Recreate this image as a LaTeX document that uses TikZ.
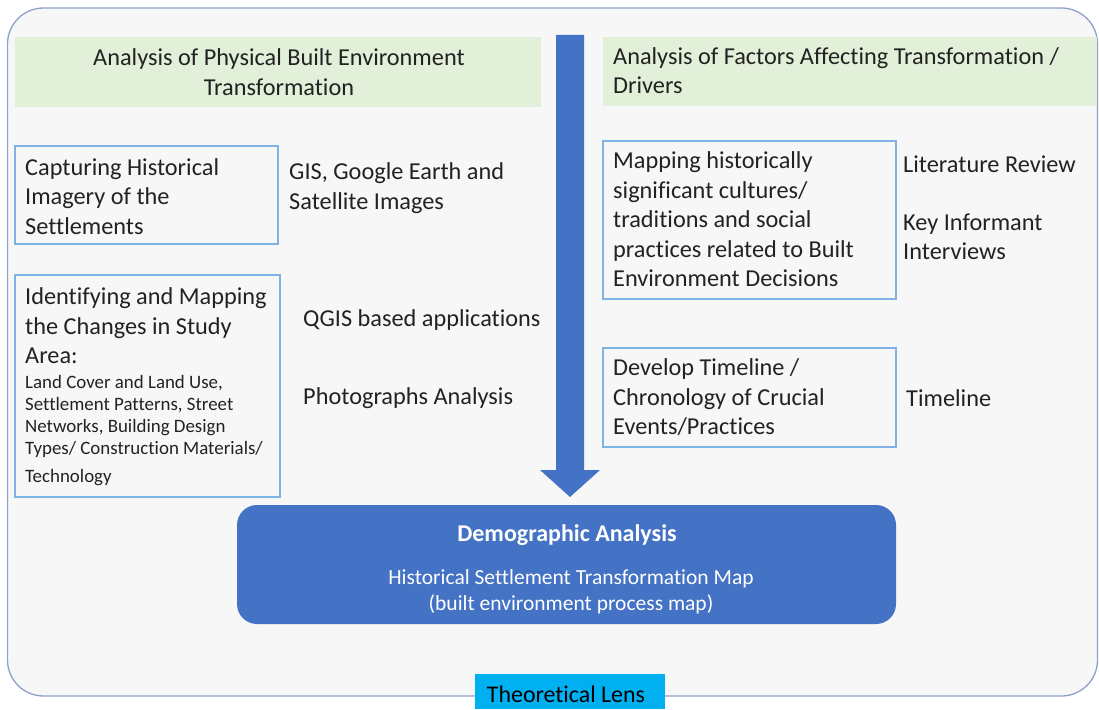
\documentclass[tikz,border=0pt]{standalone}
\usepackage{fontspec}
\setmainfont{Carlito}[Ligatures=NoCommon]
\begin{document}
\begin{tikzpicture}[x=1pt,y=-1pt,
  txt/.style={text=textgray,inner sep=0pt,align=left,anchor=west},
  bigtext/.style={txt,font=\fontsize{24.3}{29.5}\selectfont},
  smalltext/.style={txt,font=\fontsize{18.9}{22.3}\selectfont},
  header/.style={fill=headgreen,draw=none},
  stepbox/.style={draw=boxblue,line width=1.4pt,fill=none}]
\definecolor{textgray}{HTML}{222222}
\definecolor{headgreen}{HTML}{E2F0D9}
\definecolor{boxblue}{HTML}{7EB3E3}
\definecolor{mainblue}{HTML}{4472C4}
\definecolor{framegray}{HTML}{8FA2C8}
\definecolor{panel}{HTML}{F7F7F7}
\definecolor{lenscyan}{HTML}{00B0F0}
\useasboundingbox (0,0) rectangle (1099,709);
\fill[white] (0,0) rectangle (1099,709);
% outer frame
\draw[framegray,line width=1.3pt,fill=panel,rounded corners=36pt] (7.5,8) rectangle (1097.5,696);
% section headers
\fill[header] (15,37) rectangle (541,107);
\fill[header] (603,37) rectangle (1097,106);
\node[txt,anchor=center,align=center,font=\fontsize{24.3}{30}\selectfont] (hleft) at (279,72) {Analysis of Physical Built Environment\\Transformation};
\node[bigtext] (hright) at (613,70.5) {Analysis of Factors Affecting Transformation /\\Drivers};
% central flow arrow
\fill[mainblue] (556,35) -- (584,35) -- (584,470) -- (600,470) -- (570,497) -- (540,470) -- (556,470) -- cycle;
% left column boxes
\draw[stepbox] (15,146) rectangle (278,244);
\node[bigtext] (capt) at (25,196.5) {Capturing Historical\\Imagery of the\\Settlements};
\node[bigtext] (gis) at (289,188) {GIS, Google Earth and\\Satellite Images};
\draw[stepbox] (15,275) rectangle (280,497);
\node[bigtext] (ident) at (25,326) {Identifying and Mapping\\the Changes in Study\\Area:};
\node[smalltext] (items) at (25,416.5) {Land Cover and Land Use,\\Settlement Patterns, Street\\Networks, Building Design\\Types/ Construction Materials/};
\node[smalltext] (tech) at (25,478) {Technology};
\node[bigtext] (qgis) at (303,320) {QGIS based applications};
\node[bigtext] (photo) at (303,398) {Photographs Analysis};
% right column boxes
\draw[stepbox] (603,141) rectangle (896,299);
\node[bigtext] (mapc) at (613,219.5) {Mapping historically\\significant cultures/\\traditions and social\\practices related to Built\\Environment Decisions};
\node[bigtext] (lit) at (903,164) {Literature Review};
\node[bigtext] (kii) at (903,237) {Key Informant\\Interviews};
\draw[stepbox] (603,348) rectangle (896,447);
\node[bigtext] (chron) at (613,397.5) {Develop Timeline /\\Chronology of Crucial\\Events/Practices};
\node[bigtext] (tl) at (906,398) {Timeline};
% result box
\fill[mainblue,rounded corners=20pt] (237,505) rectangle (896,624);
\node[text=white,inner sep=0pt,font=\fontsize{24}{28}\selectfont\bfseries] (demo) at (567,535) {Demographic Analysis};
\node[text=white,inner sep=0pt,align=center,font=\fontsize{21.5}{26}\selectfont] (hstm) at (571,592) {Historical Settlement Transformation Map\\(built environment process map)};
% theoretical lens tab
\fill[lenscyan] (475,674) rectangle (665,709);
\node[text=black,inner sep=0pt,font=\fontsize{23.9}{28}\selectfont] (lens) at (566,694) {Theoretical Lens};
\end{tikzpicture}
\end{document}
